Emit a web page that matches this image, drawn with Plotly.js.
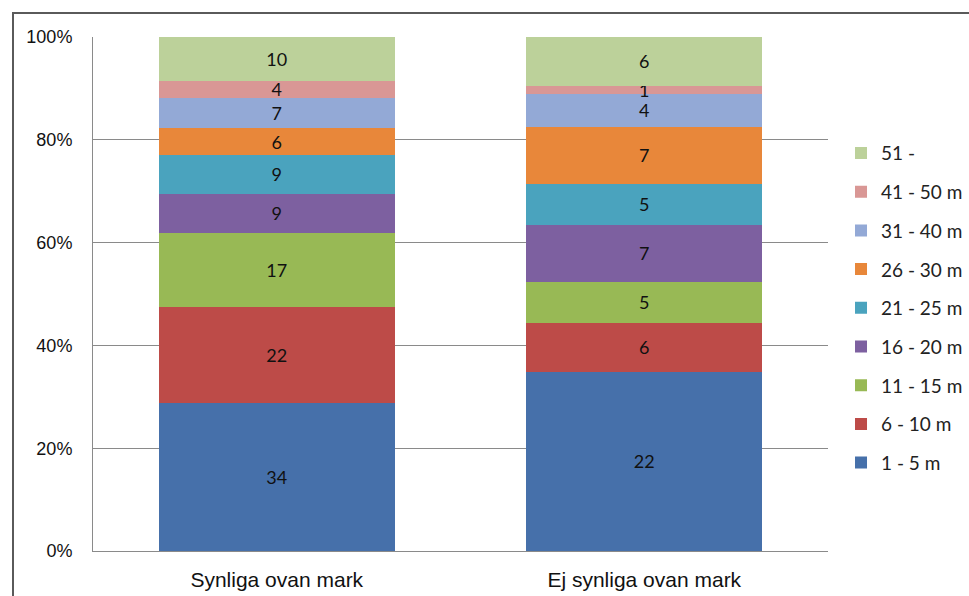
<!DOCTYPE html>
<html>
<head>
<meta charset="utf-8">
<script src="https://cdn.plot.ly/plotly-3.0.1.min.js"></script>
<style>
  html, body { margin: 0; padding: 0; background: #fff; overflow: hidden; }
  #wrap { position: relative; width: 969px; height: 596px; }
  #chart { position: absolute; left: 0; top: 0; width: 969px; height: 596px; }
  #frame { position: absolute; left: 12px; top: 12px; width: 1200px; height: 1200px;
           border: 2px solid #5a5a5a; pointer-events: none; }
</style>
</head>
<body>
<div id="wrap">
  <div id="chart"></div>
  <div id="frame"></div>
</div>
<script>
const categories = ["Synliga ovan mark", "Ej synliga ovan mark"];
const seriesNames = ["1 - 5 m", "6 - 10 m", "11 - 15 m", "16 - 20 m", "21 - 25 m", "26 - 30 m", "31 - 40 m", "41 - 50 m", "51 -"];
const synliga   = [34, 22, 17, 9, 9, 6, 7, 4, 10];
const ejSynliga = [22, 6, 5, 7, 5, 7, 4, 1, 6];
const colors = ["#4670AA", "#BD4B48", "#98B955", "#7D60A0", "#4AA3BE", "#E8873A", "#93A9D6", "#D99795", "#BCD19A"];
const yTicks = [0, 20, 40, 60, 80, 100];
const yTickText = ["0%", "20%", "40%", "60%", "80%", "100%"];

const calib = "Lato, 'Open Sans', sans-serif";
const arial = "'Liberation Sans', Arial, sans-serif";

const n = seriesNames.length;
const traces = seriesNames.map((name, i) => ({
  type: "bar",
  name: name,
  x: categories,
  y: [synliga[i], ejSynliga[i]],
  text: [String(synliga[i]), String(ejSynliga[i])],
  textposition: "inside",
  insidetextanchor: "middle",
  textangle: 0,
  textfont: { family: calib, size: 18, color: "#111" },
  marker: { color: colors[i], line: { width: 0 } },
  legendgroup: "g" + i,
  legendrank: 1000 + (n - i),
  legendgrouprank: 1000 + (n - i),
  hoverinfo: "skip",
  cliponaxis: false
}));

const layout = {
  width: 969,
  height: 596,
  margin: { l: 93, r: 141, t: 37, b: 45, autoexpand: false },
  paper_bgcolor: "#fff",
  plot_bgcolor: "#fff",
  barmode: "stack",
  barnorm: "percent",
  bargap: 0.358,
  uniformtext: { mode: "show", minsize: 18 },
  font: { family: calib, size: 16, color: "#222" },
  showlegend: true,
  legend: {
    x: 1.0177, xanchor: "left",
    y: 0.811, yanchor: "top",
    traceorder: "grouped",
    tracegroupgap: 11,
    font: { family: calib, size: 19, color: "#222" },
    itemwidth: 30,
    bgcolor: "rgba(0,0,0,0)"
  },
  xaxis: {
    type: "category",
    showline: true, linecolor: "#8a8a8a", linewidth: 1,
    ticks: "", ticklabelstandoff: 10,
    tickfont: { family: arial, size: 21, color: "#111" },
    fixedrange: true
  },
  yaxis: {
    range: [0, 100],
    tickvals: yTicks,
    ticktext: yTickText,
    showgrid: true, gridcolor: "#8a8a8a", gridwidth: 1,
    showline: true, linecolor: "#8a8a8a", linewidth: 1,
    zeroline: false,
    ticks: "", ticklabelstandoff: 16,
    tickfont: { family: arial, size: 18, color: "#111" },
    fixedrange: true
  }
};

Plotly.newPlot("chart", traces, layout, { staticPlot: true, displayModeBar: false });
</script>
</body>
</html>
